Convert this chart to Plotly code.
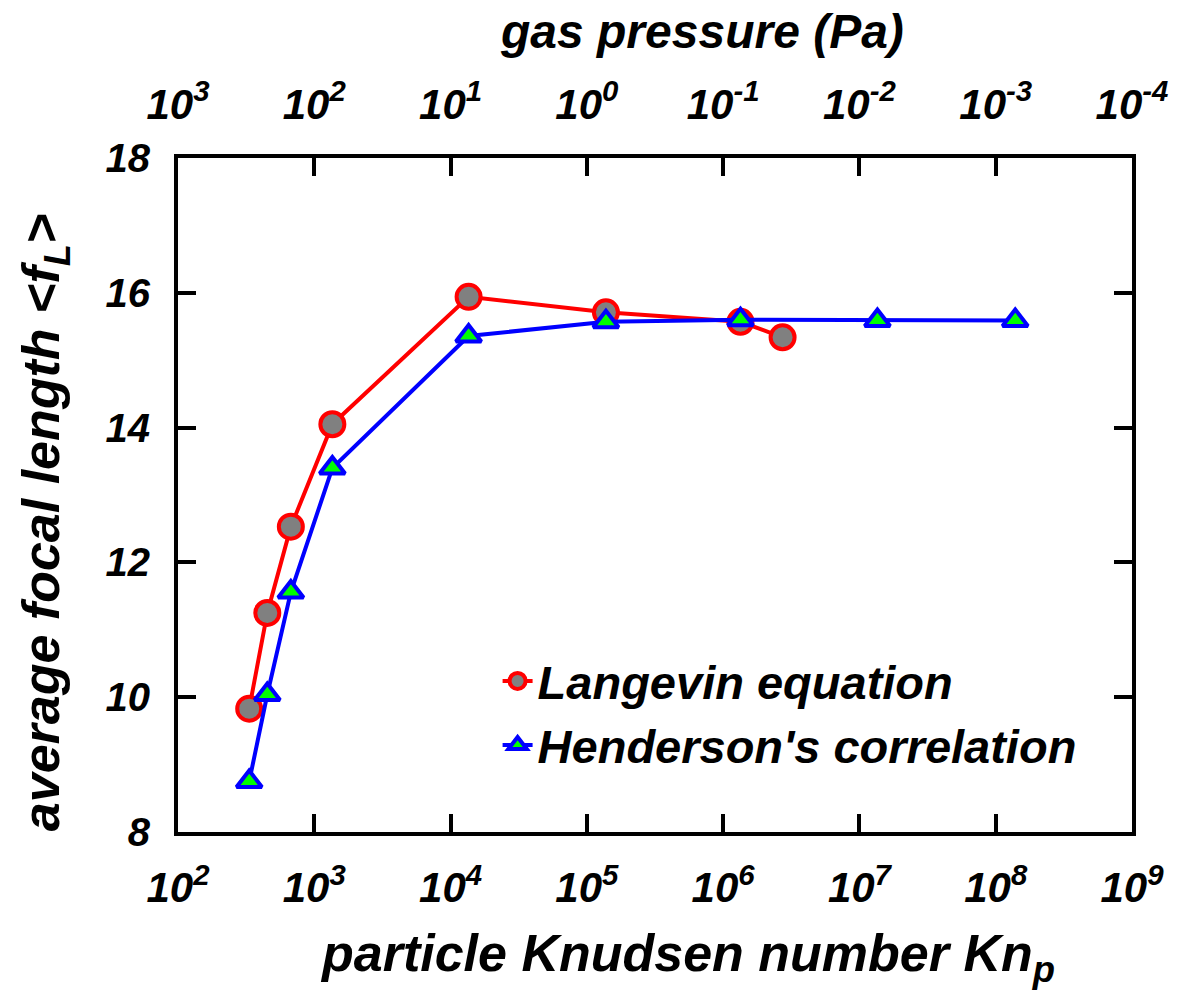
import plotly.graph_objects as go

# ---- data ----
kn_langevin = [333, 452, 673, 1357, 13560, 138000, 1340000, 2730000]
f_langevin = [9.83, 11.25, 12.53, 14.05, 15.94, 15.71, 15.57, 15.34]

kn_henderson = [333, 452, 673, 1357, 13560, 138000, 1340000, 13550000, 139000000]
f_henderson = [8.75, 10.04, 11.56, 13.40, 15.36, 15.57, 15.60, 15.59, 15.59]

kn_exponents = [2, 3, 4, 5, 6, 7, 8, 9]
pressure_exponents = [3, 2, 1, 0, -1, -2, -3, -4]
y_ticks = [8, 10, 12, 14, 16, 18]

FONT = "Liberation Sans"
TXT = dict(family=FONT, color="black", weight="bold", style="italic")

fig = go.Figure()

fig.add_trace(go.Scatter(
    x=kn_langevin, y=f_langevin, mode="lines+markers", name="Langevin equation",
    line=dict(color="#ff0000", width=4),
    marker=dict(symbol="circle", size=24, color="#808080",
                line=dict(color="#ff0000", width=4)),
))
fig.add_trace(go.Scatter(
    x=kn_henderson, y=f_henderson, mode="lines+markers", name="Henderson's correlation",
    line=dict(color="#0000ff", width=4),
    marker=dict(symbol="triangle-up", size=22, color="#00ff00",
                line=dict(color="#0000ff", width=4)),
))

# invisible trace so the top (pressure) axis is drawn
p_vals = [10.0 ** e for e in pressure_exponents]
fig.add_trace(go.Scatter(
    x=[p_vals[0], p_vals[-1]], y=[y_ticks[0], y_ticks[0]], xaxis="x2", yaxis="y",
    mode="markers", marker=dict(opacity=0), showlegend=False, hoverinfo="skip",
))

axis_common = dict(showline=True, linewidth=4, linecolor="black",
                   showgrid=False, zeroline=False)

fig.update_layout(
    width=1180, height=1001,
    margin=dict(l=178, r=44, t=158, b=169),
    paper_bgcolor="white", plot_bgcolor="white",
    showlegend=True,
    legend=dict(x=0.335, y=0.176, xanchor="left", yanchor="middle",
                font=dict(size=47, **TXT), bgcolor="rgba(0,0,0,0)",
                borderwidth=0, itemwidth=30),
    xaxis=dict(
        type="log", range=[kn_exponents[0], kn_exponents[-1]],
        tickvals=[10.0 ** e for e in kn_exponents],
        ticktext=[f"10<sup>{e}</sup>" for e in kn_exponents],
        ticks="inside", ticklen=18, tickwidth=4, tickcolor="black",
        mirror="ticks", tickfont=dict(size=42, **TXT),
        ticklabelstandoff=16,
        **axis_common,
    ),
    xaxis2=dict(
        type="log", range=[pressure_exponents[0], pressure_exponents[-1]],
        overlaying="x", side="top", anchor="y",
        tickvals=p_vals,
        ticktext=[f"10<sup>{e}</sup>" for e in pressure_exponents],
        ticks="", tickfont=dict(size=42, **TXT),
        ticklabelstandoff=30,
        showline=False, showgrid=False, zeroline=False,
    ),
    yaxis=dict(
        range=[y_ticks[0], y_ticks[-1]], tickvals=y_ticks,
        ticks="inside", ticklen=18, tickwidth=4, tickcolor="black",
        mirror="ticks", tickfont=dict(size=40, **TXT),
        ticklabelstandoff=16,
        **axis_common,
    ),
    annotations=[
        dict(text="particle Knudsen number Kn<sub>p</sub>", xref="paper", yref="paper",
             x=0.534, y=-0.186, showarrow=False, xanchor="center", yanchor="middle",
             font=dict(size=52, **TXT)),
        dict(text="gas pressure (Pa)", xref="paper", yref="paper",
             x=0.549, y=1.187, showarrow=False, xanchor="center", yanchor="middle",
             font=dict(size=48, **TXT)),
        dict(text="average focal length &lt;f<sub>L</sub>&gt;", xref="paper", yref="paper",
             x=-0.1395, y=0.4595, showarrow=False, xanchor="center", yanchor="middle",
             textangle=-90, font=dict(size=52, **TXT)),
    ],
)

fig.write_html("out.html")
